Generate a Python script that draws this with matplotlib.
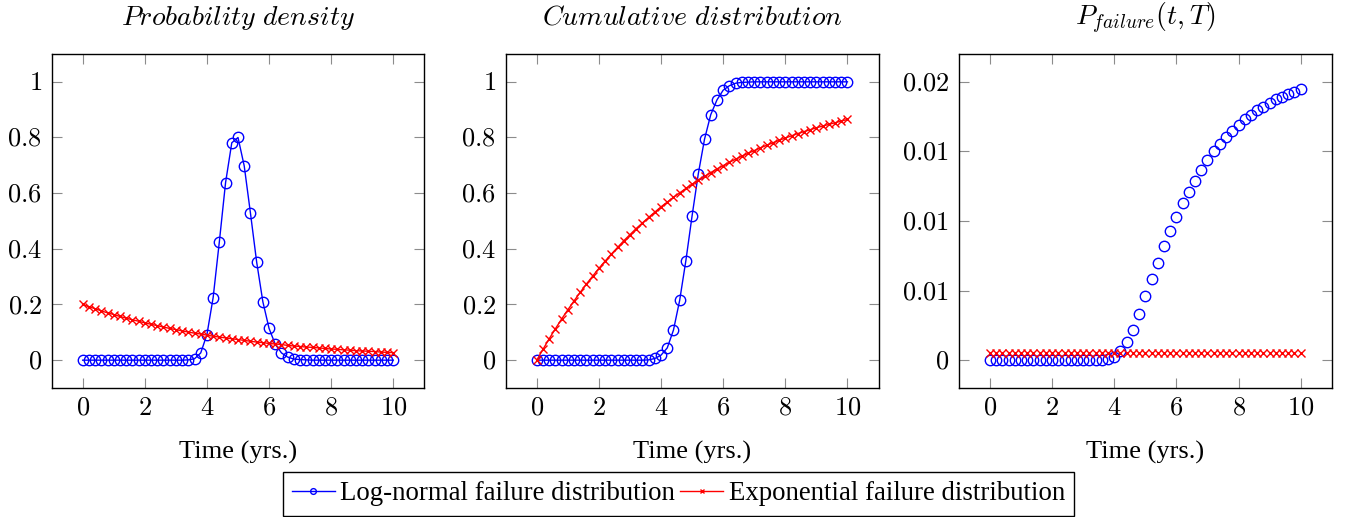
import matplotlib.pyplot as plt
import numpy as np

plt.rcParams['font.family'] = ['Liberation Serif', 'DejaVu Serif']
plt.rcParams['mathtext.fontset'] = 'cm'

# time grid (years), 0 to 10 in steps of 0.2
t = np.linspace(0, 10, 51)

lognorm_pdf = [0.0] * 17 + [
    0.001, 0.005, 0.026, 0.092, 0.225, 0.426, 0.638, 0.781, 0.800, 0.698,
    0.529, 0.353, 0.210, 0.114, 0.057, 0.026, 0.011, 0.004, 0.002, 0.001,
] + [0.0] * 14

expo_pdf = [
    0.200, 0.192, 0.185, 0.177, 0.170, 0.164, 0.157, 0.151, 0.145, 0.140,
    0.134, 0.129, 0.124, 0.119, 0.114, 0.110, 0.105, 0.101, 0.097, 0.094,
    0.090, 0.086, 0.083, 0.080, 0.077, 0.074, 0.071, 0.068, 0.065, 0.063,
    0.060, 0.058, 0.056, 0.053, 0.051, 0.049, 0.047, 0.046, 0.044, 0.042,
    0.040, 0.039, 0.037, 0.036, 0.034, 0.033, 0.032, 0.031, 0.029, 0.028,
    0.027,
]

lognorm_cdf = [0.0] * 18 + [
    0.001, 0.006, 0.018, 0.044, 0.108, 0.215, 0.358, 0.519, 0.670, 0.794,
    0.882, 0.935, 0.970, 0.986, 0.995, 0.998, 0.999,
] + [1.0] * 16

expo_cdf = [
    0.000, 0.039, 0.077, 0.113, 0.148, 0.181, 0.213, 0.244, 0.274, 0.302,
    0.330, 0.356, 0.381, 0.405, 0.429, 0.451, 0.473, 0.493, 0.513, 0.532,
    0.551, 0.568, 0.585, 0.601, 0.617, 0.632, 0.647, 0.660, 0.674, 0.687,
    0.699, 0.711, 0.722, 0.733, 0.743, 0.753, 0.763, 0.772, 0.781, 0.790,
    0.798, 0.806, 0.814, 0.821, 0.828, 0.835, 0.841, 0.847, 0.853, 0.859,
    0.865,
]

lognorm_pfail = [0.0] * 19 + [
    0.0001, 0.00026, 0.00067, 0.0013, 0.0022, 0.0033, 0.0046, 0.0058, 0.0070,
    0.0082, 0.0093, 0.0103, 0.0113, 0.0121, 0.0129, 0.0137, 0.0144, 0.0150,
    0.0155, 0.0160, 0.0165, 0.0169, 0.0173, 0.0176, 0.0180, 0.0182, 0.0185,
    0.0188, 0.0189, 0.0191, 0.0193, 0.0195,
]
expo_pfail = [0.00055] * 51

titles = [r'$Probability\ density$', r'$Cumulative\ distribution$',
          r'$P_{failure}(t,T)$']
x_ticks = [0, 2, 4, 6, 8, 10]
y_ticks_12 = [0, 0.2, 0.4, 0.6, 0.8, 1]
y_labels_12 = ['0', '0.2', '0.4', '0.6', '0.8', '1']
y_ticks_3 = [0, 0.005, 0.01, 0.015, 0.02]
y_labels_3 = ['0', '0.01', '0.01', '0.01', '0.02']

fig = plt.figure(figsize=(13.47, 5.17), dpi=100)
W, H = 1347, 517
lefts = [51.6, 505.7, 958.9]
width = 372.8
top, bottom = 54, 388

fs = 19
axes = []
for i in range(3):
    ax = fig.add_axes([lefts[i] / W, 1 - bottom / H, width / W, (bottom - top) / H])
    axes.append(ax)

ax1, ax2, ax3 = axes
circ = dict(marker='o', ms=7.5, mfc='none', mew=1.0)
cross = dict(marker='x', ms=6, mew=1.0)
ln1, = ax1.plot(t, lognorm_pdf, color='blue', lw=1.0,
                label='Log-normal failure distribution', **circ)
ex1, = ax1.plot(t, expo_pdf, color='red', lw=1.0,
                label='Exponential failure distribution', **cross)
ax2.plot(t, lognorm_cdf, color='blue', lw=1.0, **circ)
ax2.plot(t, expo_cdf, color='red', lw=1.0, **cross)
ax3.plot(t, lognorm_pfail, color='blue', ls='none', **circ)
ax3.plot(t, expo_pfail, color='red', ls='none', **cross)

for i, ax in enumerate(axes):
    ax.set_xlim(-1, 11)
    ax.set_xticks(x_ticks)
    ax.set_xticklabels(['$%d$' % v for v in x_ticks])
    if i < 2:
        ax.set_ylim(-0.1, 1.1)
        ax.set_yticks(y_ticks_12)
        ax.set_yticklabels(['$%s$' % s for s in y_labels_12])
    else:
        ax.set_ylim(-0.002, 0.022)
        ax.set_yticks(y_ticks_3)
        ax.set_yticklabels(['$%s$' % s for s in y_labels_3])
    ax.tick_params(direction='in', length=7.5, width=0.8, color='0.55',
                   top=True, right=True, labelsize=fs, pad=7)
    for sp in ax.spines.values():
        sp.set_linewidth(1.0)
    ax.set_xlabel('Time (yrs.)', fontsize=fs, labelpad=15)
    ax.set_title(titles[i], fontsize=20, pad=21)

fig.legend(handles=[ln1, ex1], loc='upper center',
           bbox_to_anchor=(678.5 / W, 1 - 472 / H), ncol=2, fontsize=19.3,
           frameon=True, fancybox=False, edgecolor='black', framealpha=1,
           handlelength=1.6, handletextpad=0.2, columnspacing=0.2,
           markerscale=0.55, borderpad=0.35, borderaxespad=0)

fig.savefig('out.png', dpi=100)
